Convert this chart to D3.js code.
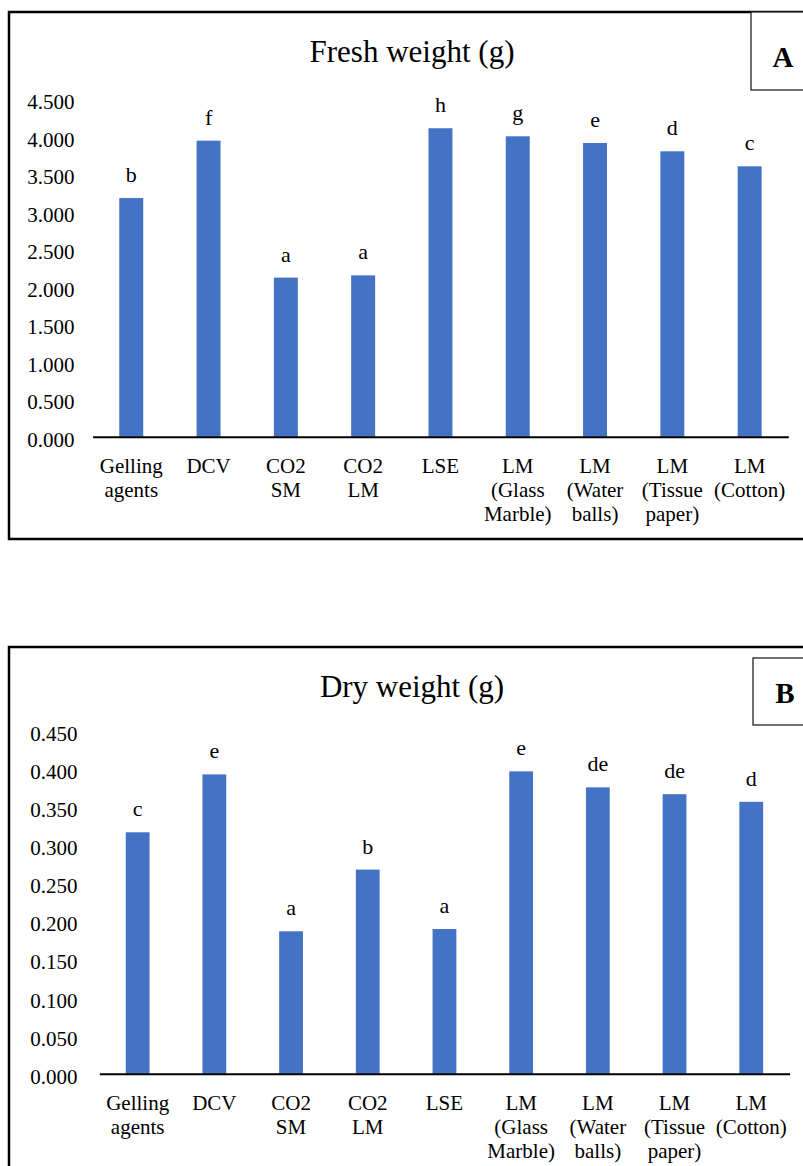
<!DOCTYPE html>
<html>
<head>
<meta charset="utf-8">
<script src="https://cdn.jsdelivr.net/npm/d3@7/dist/d3.min.js"></script>
<style>
  html, body { margin: 0; padding: 0; background: #fff; }
  svg { display: block; }
  text { font-family: "Liberation Serif", "Times New Roman", serif; fill: #000; }
</style>
</head>
<body>
<svg id="chart" width="803" height="1166"></svg>
<script>
// ---- Data ----
const categories = ["Gelling\nagents", "DCV", "CO2\nSM", "CO2\nLM", "LSE",
  "LM\n(Glass\nMarble)", "LM\n(Water\nballs)", "LM\n(Tissue\npaper)", "LM\n(Cotton)"];
const freshWeight = [3.180, 3.945, 2.120, 2.150, 4.110, 4.003, 3.914, 3.803, 3.603];
const freshLetters = ["b", "f", "a", "a", "h", "g", "e", "d", "c"];
const freshTicks = [0, 0.5, 1.0, 1.5, 2.0, 2.5, 3.0, 3.5, 4.0, 4.5];
const dryWeight = [0.317, 0.393, 0.187, 0.268, 0.190, 0.397, 0.376, 0.367, 0.357];
const dryLetters = ["c", "e", "a", "b", "a", "e", "de", "de", "d"];
const dryTicks = [0, 0.05, 0.10, 0.15, 0.20, 0.25, 0.30, 0.35, 0.40, 0.45];

const svg = d3.select("#chart");
svg.append("rect").attr("width", 803).attr("height", 1166).attr("fill", "#fff");

function drawPanel(cfg) {
  const g = svg.append("g");
  // outer frame
  g.append("rect")
    .attr("x", cfg.frame[0]).attr("y", cfg.frame[1])
    .attr("width", cfg.frame[2]).attr("height", cfg.frame[3])
    .attr("fill", "none").attr("stroke", "#000").attr("stroke-width", 2.5);
  // label box
  g.append("rect")
    .attr("x", cfg.box[0]).attr("y", cfg.box[1])
    .attr("width", cfg.box[2]).attr("height", cfg.box[3])
    .attr("fill", "#fff").attr("stroke", "#222").attr("stroke-width", 1.3);
  g.append("text")
    .attr("x", cfg.boxText[0]).attr("y", cfg.boxText[1])
    .attr("text-anchor", "middle")
    .attr("font-size", 29).attr("font-weight", "bold")
    .text(cfg.panel);
  // title
  g.append("text")
    .attr("x", 412).attr("y", cfg.titleY)
    .attr("text-anchor", "middle")
    .attr("font-size", 31)
    .text(cfg.title);

  const x = d3.scaleBand().domain(categories).range(cfg.xRange)
    .paddingInner(0.69).paddingOuter(0.345);
  const y = d3.scaleLinear().domain([0, cfg.yMax]).range(cfg.yRange);

  // y axis labels (no line, no ticks)
  const yAxis = d3.axisLeft(y).tickValues(cfg.ticks).tickSize(0).tickPadding(0)
    .tickFormat(d3.format(".3f"));
  const ya = g.append("g").attr("transform", `translate(${cfg.labelRight},0)`).call(yAxis);
  ya.select(".domain").remove();
  ya.selectAll("text")
    .attr("font-family", "Liberation Serif, Times New Roman, serif")
    .attr("font-size", 21).attr("fill", "#000").attr("dy", "0.38em")
    .attr("transform", "translate(0,1.5)");

  // bars
  g.selectAll("rect.bar").data(cfg.values).join("rect")
    .attr("class", "bar")
    .attr("x", (d, i) => x(categories[i]))
    .attr("width", x.bandwidth())
    .attr("y", d => y(d))
    .attr("height", d => y(0) - y(d))
    .attr("fill", "#4472C4");

  // significance letters
  g.selectAll("text.sig").data(cfg.values).join("text")
    .attr("class", "sig")
    .attr("x", (d, i) => x(categories[i]) + x.bandwidth() / 2)
    .attr("y", d => y(d) - 16)
    .attr("text-anchor", "middle")
    .attr("font-size", 22)
    .text((d, i) => cfg.letters[i]);

  // x axis line
  const xAxis = d3.axisBottom(x).tickSize(0).tickFormat("");
  const xa = g.append("g").attr("transform", `translate(0,${y(0)})`).call(xAxis);
  xa.select(".domain").attr("stroke", "#000").attr("stroke-width", 2);

  // category labels
  categories.forEach(c => {
    const lines = c.split("\n");
    const t = g.append("text")
      .attr("x", x(c) + x.bandwidth() / 2)
      .attr("y", y(0) + 36)
      .attr("text-anchor", "middle")
      .attr("font-size", 21);
    lines.forEach((ln, k) => {
      t.append("tspan")
        .attr("x", x(c) + x.bandwidth() / 2)
        .attr("dy", k === 0 ? 0 : 24)
        .text(ln);
    });
  });
}

drawPanel({
  panel: "A", title: "Fresh weight (g)", titleY: 62,
  frame: [9, 12, 810, 527], box: [751, 12, 70, 78], boxText: [783, 67],
  xRange: [92.6, 788.3], yRange: [436.7, 99.0], yMax: 4.5,
  ticks: freshTicks, labelRight: 74.5,
  values: freshWeight, letters: freshLetters
});

drawPanel({
  panel: "B", title: "Dry weight (g)", titleY: 697,
  frame: [9, 647, 810, 540], box: [753, 658, 70, 67], boxText: [785, 703],
  xRange: [99.3, 789.6], yRange: [1073.7, 731.0], yMax: 0.45,
  ticks: dryTicks, labelRight: 77.5,
  values: dryWeight, letters: dryLetters
});
</script>
</body>
</html>
